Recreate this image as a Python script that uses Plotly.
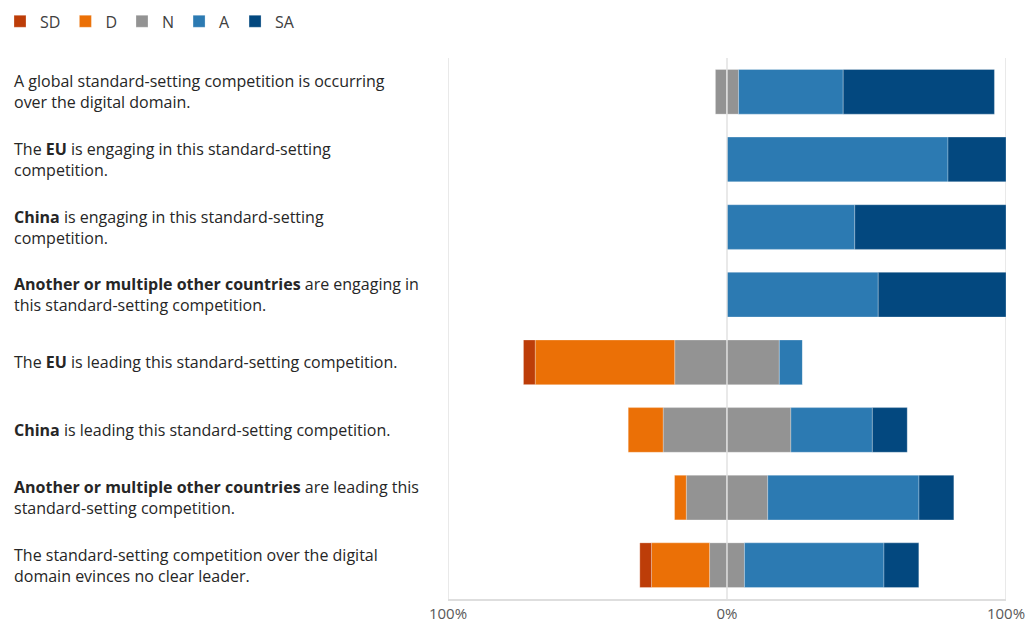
import plotly.graph_objects as go

categories = ["Q1", "Q2", "Q3", "Q4", "Q5", "Q6", "Q7", "Q8"]
labels = [
    "A global standard-setting competition is occurring<br>over the digital domain.",
    "The <b>EU</b> is engaging in this standard-setting<br>competition.",
    "<b>China</b> is engaging in this standard-setting<br>competition.",
    "<b>Another or multiple other countries</b> are engaging in<br>this standard-setting competition.",
    "The <b>EU</b> is leading this standard-setting competition.",
    "<b>China</b> is leading this standard-setting competition.",
    "<b>Another or multiple other countries</b> are leading this<br>standard-setting competition.",
    "The standard-setting competition over the digital<br>domain evinces no clear leader.",
]
SD = [0, 0, 0, 0, 4.2, 0, 0, 4.2]
D = [0, 0, 0, 0, 50.0, 12.5, 4.2, 20.8]
N = [8.3, 0, 0, 0, 37.5, 45.8, 29.2, 12.5]
A = [37.5, 79.2, 45.8, 54.2, 8.3, 29.2, 54.2, 50.0]
SA = [54.2, 20.8, 54.2, 45.8, 0, 12.5, 12.5, 12.5]

tick_vals = [-100, 0, 100]
tick_text = ["100%", "0%", "100%"]

colors = {"SD": "#BD3D08", "D": "#EB7006", "N": "#939393", "A": "#2C7AB2", "SA": "#03487F"}
line = dict(width=0.6, color="rgba(255,255,255,0.45)")
W = 0.66

fig = go.Figure()
# negative side (order from zero outward)
fig.add_trace(go.Bar(y=categories, x=[-v / 2 for v in N], orientation="h", name="N",
                     marker=dict(color=colors["N"], line=line), width=W,
                     legendgroup="N", showlegend=False, hoverinfo="skip"))
fig.add_trace(go.Bar(y=categories, x=[-v for v in D], orientation="h", name="D",
                     marker=dict(color=colors["D"], line=line), width=W, legendrank=2))
fig.add_trace(go.Bar(y=categories, x=[-v for v in SD], orientation="h", name="SD",
                     marker=dict(color=colors["SD"], line=line), width=W, legendrank=1))
# positive side
fig.add_trace(go.Bar(y=categories, x=[v / 2 for v in N], orientation="h", name="N",
                     marker=dict(color=colors["N"], line=line), width=W,
                     legendgroup="N", legendrank=3))
fig.add_trace(go.Bar(y=categories, x=A, orientation="h", name="A",
                     marker=dict(color=colors["A"], line=line), width=W, legendrank=4))
fig.add_trace(go.Bar(y=categories, x=SA, orientation="h", name="SA",
                     marker=dict(color=colors["SA"], line=line), width=W, legendrank=5))

plot_left, plot_right = 448, 1006
plot_w = plot_right - plot_left
label_x = (12 - plot_left) / plot_w

for cat, lab in zip(categories, labels):
    fig.add_annotation(x=label_x, xref="paper", y=cat, yref="y", text=lab,
                       xanchor="left", yanchor="middle", align="left", showarrow=False,
                       font=dict(size=16, color="#262626"))

for gx, layer in zip(tick_vals, ["below", "above", "below"]):
    fig.add_shape(type="line", x0=gx, x1=gx, xref="x", y0=0, y1=1, yref="paper",
                  line=dict(color="rgba(222,222,222,0.9)", width=1.5), layer=layer)

fig.update_layout(
    barmode="relative",
    width=1029, height=623,
    margin=dict(l=plot_left, r=1029 - plot_right, t=58, b=24, autoexpand=False),
    paper_bgcolor="white", plot_bgcolor="white",
    font=dict(family="Open Sans, Noto Sans, sans-serif", color="#404040"),
    bargap=0.34,
    legend=dict(orientation="h", xref="container", x=0.0, yref="container", y=0.993,
                xanchor="left", yanchor="top", font=dict(size=16, color="#404040"),
                traceorder="normal", itemwidth=30),
    xaxis=dict(range=[-100, 100], tickvals=tick_vals, ticktext=tick_text,
               showgrid=False, zeroline=False, automargin=False,
               showline=True, linecolor="#DEDEDE", linewidth=1.5,
               tickfont=dict(size=15, color="#595959"), ticks="", ticklabelstandoff=0),
    yaxis=dict(categoryorder="array", categoryarray=categories, autorange="reversed",
               showticklabels=False, showgrid=False, zeroline=False, ticks="",
               automargin=False),
)

fig.write_html("out.html")
